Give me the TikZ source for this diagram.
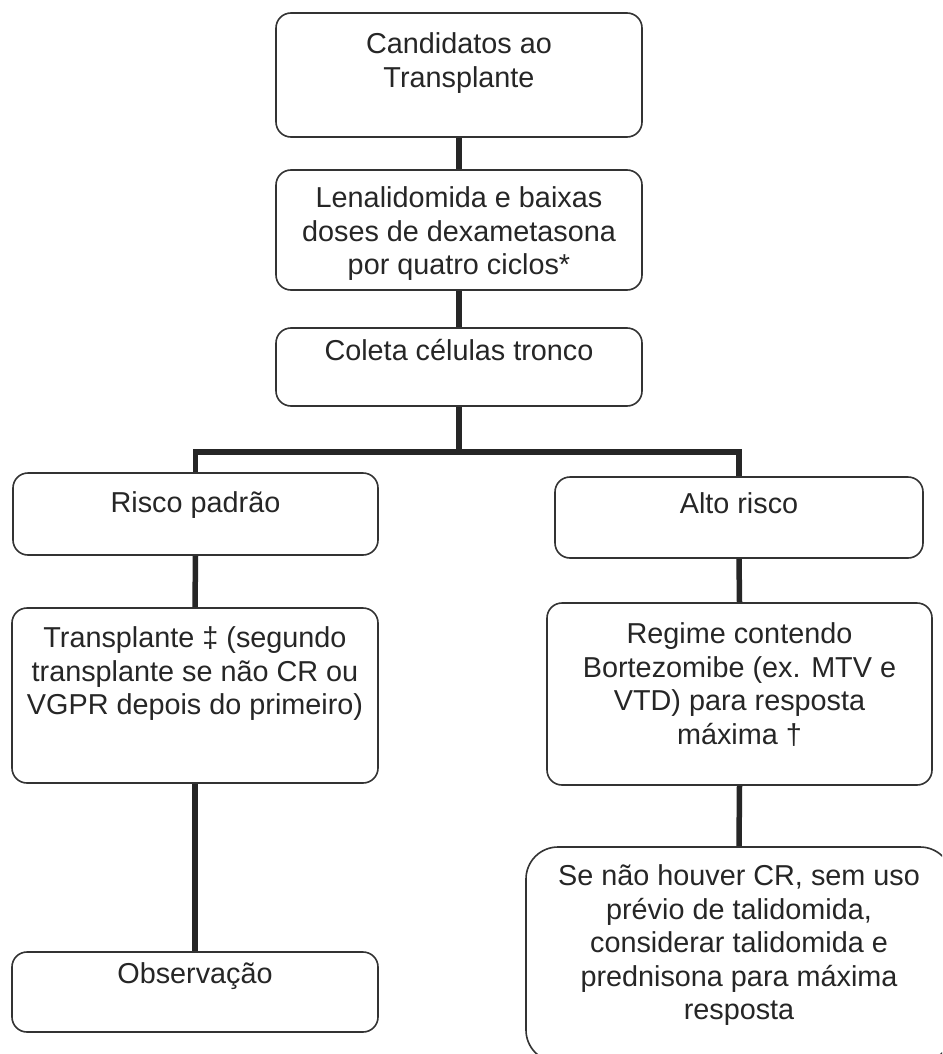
\documentclass[tikz,border=0pt]{standalone}
\usepackage{fontspec}
\setmainfont{Liberation Sans}
\begin{document}
\begin{tikzpicture}[x=1pt,y=-1pt,
  boxshape/.style={draw=black!80, line width=1.6pt, rounded corners=15pt, fill=white, inner sep=0pt},
  txt/.style={anchor=north, inner sep=0pt, align=center, font=\fontsize{28.8}{33.5}\selectfont, text=black!85},
  link/.style={line width=5.5pt, draw=black!85}]
\clip (0,0) rectangle (942,1054);
\fill[white] (0,0) rectangle (942,1054);
% boxes
\node[boxshape, minimum width=366pt, minimum height=124pt] (b1) at (459,75) {};
\node[boxshape, minimum width=366pt, minimum height=120pt] (b2) at (459,230) {};
\node[boxshape, minimum width=366pt, minimum height=78pt] (b3) at (459,367) {};
\node[boxshape, minimum width=365pt, minimum height=82pt] (b4) at (195.5,514) {};
\node[boxshape, minimum width=368pt, minimum height=81pt] (b5) at (739,517.5) {};
\node[boxshape, minimum width=366pt, minimum height=175pt] (b6) at (195,695.5) {};
\node[boxshape, minimum width=385pt, minimum height=182pt] (b7) at (739.5,694) {};
\node[boxshape, minimum width=366pt, minimum height=80pt] (b8) at (195,992) {};
\node[boxshape, rounded corners=32pt, minimum width=426pt, minimum height=215pt] (b9) at (739,954.5) {};
% texts
\node[txt] (t1) at (459,32.5) {Candidatos ao\\Transplante};
\node[txt] (t2) at (459,186.5) {Lenalidomida e baixas\\doses de dexametasona\\por quatro ciclos*};
\node[txt] (t3) at (459,339.5) {Coleta células tronco};
\node[txt] (t4) at (195.5,491.5) {Risco padrão};
\node[txt] (t5) at (739,492.5) {Alto risco};
\node[txt] (t6) at (195,626.5) {Transplante ‡ (segundo\\transplante se não CR ou\\VGPR depois do primeiro)};
\node[txt] (t7) at (739.5,622.5) {Regime contendo\\Bortezomibe (ex. MTV e\\VTD) para resposta\\máxima †};
\node[txt] (t8) at (195,962.5) {Observação};
\node[txt] (t9) at (739,864.5) {Se não houver CR, sem uso\\prévio de talidomida,\\considerar talidomida e\\prednisona para máxima\\resposta};
% connectors
\coordinate (j) at (459,452);
\draw[link] (b1.south) -- (b2.north);
\draw[link] (b2.south) -- (b3.north);
\draw[link] (b3.south) -- (j);
\draw[link] (b4.north) |- (j) -| (b5.north);
\draw[link] (b4.south) -- (b6.north);
\draw[link] (b6.south) -- (b8.north);
\draw[link] (b5.south) -- (b7.north);
\draw[link] (b7.south) -- (b9.north);
\end{tikzpicture}
\end{document}
